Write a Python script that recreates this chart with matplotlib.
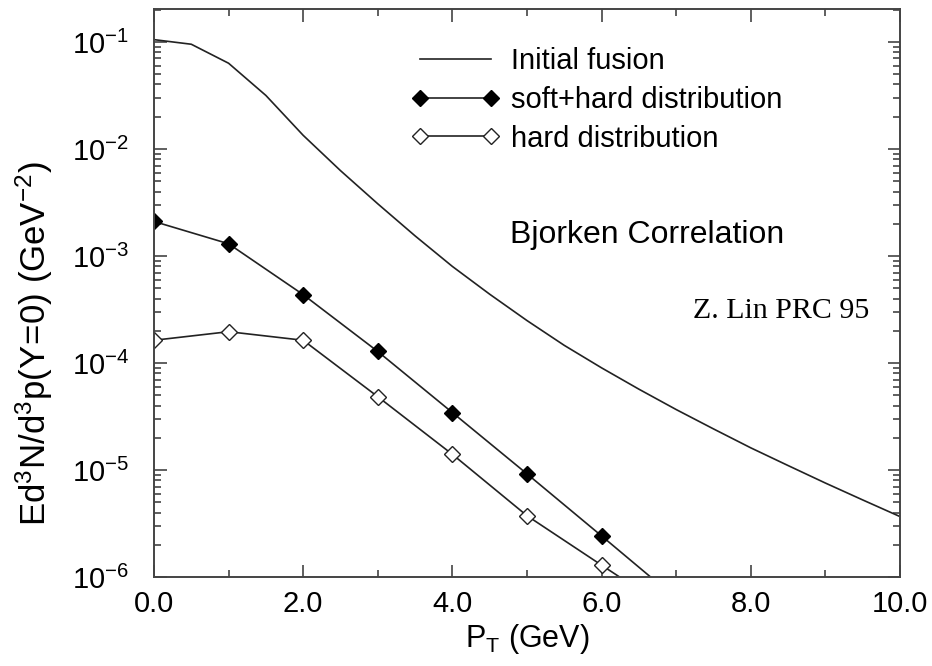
import numpy as np
import matplotlib
matplotlib.use('Agg')
from matplotlib import pyplot as plt
from matplotlib.ticker import FixedLocator, LogLocator, FormatStrFormatter, LogFormatterMathtext, NullFormatter

plt.rcParams['font.family'] = ['Liberation Sans', 'DejaVu Sans']
plt.rcParams['mathtext.fontset'] = 'custom'
plt.rcParams['mathtext.rm'] = 'Liberation Sans'
plt.rcParams['mathtext.it'] = 'Liberation Sans:italic'
plt.rcParams['mathtext.bf'] = 'Liberation Sans:bold'

# initial fusion curve
pt_fusion = [0.0, 0.5, 1.0, 1.5, 2.0, 2.5, 3.0, 3.5, 4.0, 4.5, 5.0,
             5.5, 6.0, 6.5, 7.0, 7.5, 8.0, 8.5, 9.0, 9.5, 10.0]
fusion = [0.105, 0.0951, 0.0632, 0.0316, 1.34e-2, 6.27e-3, 3.07e-3, 1.54e-3, 7.98e-4, 4.39e-4, 2.49e-4,
          1.46e-4, 9.0e-5, 5.69e-5, 3.67e-5, 2.42e-5, 1.61e-5, 1.10e-5, 7.55e-6, 5.25e-6, 3.67e-6]

# soft+hard and hard distributions
pt_pts = [0, 1, 2, 3, 4, 5, 6, 7]
soft_hard = [2.1e-3, 1.30e-3, 4.35e-4, 1.28e-4, 3.44e-5, 9.2e-6, 2.42e-6, 6.3e-7]
hard = [1.63e-4, 1.96e-4, 1.63e-4, 4.84e-5, 1.40e-5, 3.74e-6, 1.29e-6, 4.5e-7]

fig = plt.figure(figsize=(9.32, 6.66), dpi=100)
ax = fig.add_axes([0.1652, 0.1336, 0.8005, 0.8529])

lc = '#222222'
ax.plot(pt_fusion, fusion, '-', color=lc, lw=1.2, label='Initial fusion')
ax.plot(pt_pts, soft_hard, '-', color=lc, lw=1.2, marker='D', ms=8.5,
        mfc='black', mec='black', label='soft+hard distribution')
ax.plot(pt_pts, hard, '-', color=lc, lw=1.2, marker='D', ms=8.5,
        mfc='white', mec=lc, mew=1.0, label='hard distribution')

ax.set_yscale('log')
ax.set_xlim(0, 10)
ax.set_ylim(1e-6, 0.203)

ax.xaxis.set_major_locator(FixedLocator([0, 2, 4, 6, 8, 10]))
ax.xaxis.set_minor_locator(FixedLocator([1, 3, 5, 7, 9]))
ax.xaxis.set_major_formatter(FormatStrFormatter('%.1f'))
ax.yaxis.set_major_locator(LogLocator(base=10, numticks=10))
ax.yaxis.set_minor_locator(LogLocator(base=10, subs=np.arange(2, 10), numticks=20))
ax.yaxis.set_major_formatter(LogFormatterMathtext())
ax.yaxis.set_minor_formatter(NullFormatter())

ax.tick_params(which='both', direction='in', top=True, right=True, color='#444444', width=1.2)
ax.tick_params(which='major', length=9, labelsize=21)
ax.tick_params(which='minor', length=5)
ax.tick_params(axis='x', which='major', pad=9)
ax.tick_params(axis='y', which='major', pad=18)
for s in ax.spines.values():
    s.set_color('#444444')
    s.set_linewidth(1.4)

ax.set_xlabel(r'$\mathrm{P_T}$ (GeV)', fontsize=22, labelpad=3)
ax.set_ylabel(r'$\mathrm{Ed^3N/d^3p(Y\!=\!0)\ (GeV^{-2})}$', fontsize=25)
ax.yaxis.set_label_coords(-0.133, 0.41)

ax.legend(loc='upper left', bbox_to_anchor=(0.3446, 0.933), frameon=False,
          fontsize=21, numpoints=2, handlelength=3.05, handletextpad=0.38,
          labelspacing=0.37, borderpad=0, borderaxespad=0)

ax.text(0.477, 0.588, 'Bjorken Correlation', transform=ax.transAxes, fontsize=23)
ax.text(0.7225, 0.456, 'Z. Lin PRC 95', transform=ax.transAxes, fontsize=21.5,
        family='Liberation Serif')

plt.savefig('out.png', dpi=100)
